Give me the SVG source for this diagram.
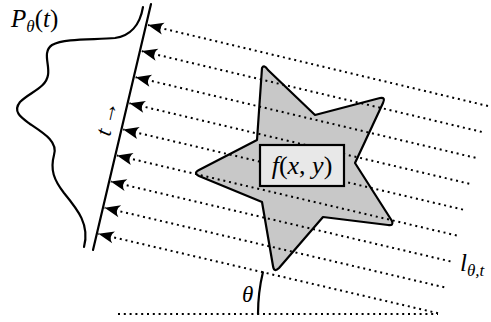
<svg xmlns="http://www.w3.org/2000/svg" width="491" height="322" viewBox="0 0 491 322">
<style>
.ray{fill:none;stroke:#000;stroke-width:2;stroke-dasharray:2 3.8}
.solid{fill:none;stroke:#000;stroke-width:2.2;stroke-linecap:round;stroke-linejoin:round}
.lbl{font-family:"Liberation Serif","DejaVu Serif",serif;font-style:italic;fill:#000}
.up{font-family:"Liberation Serif","DejaVu Serif",serif;font-style:normal;fill:#000}
</style>
<defs>
<marker id="ah" markerUnits="userSpaceOnUse" markerWidth="20" markerHeight="20" viewBox="-16 -8 18 16" refX="0" refY="0" orient="auto">
<path d="M0,0 L-14,-5.5 Q-9,0 -14,5.5 Z" fill="#000"/>
</marker>
</defs>
<g id="star">
<path d="M262,68 Q264,64 268,70 L315,115 L380,98 Q386,97 383,103 L355,163 L392,221 Q394,226 388,225 L323,217 L279,268 Q274,273 273,266 L262,202 L199,176 Q193,173 199,170 L257,140 Z" fill="#c8c8c8" stroke="#000" stroke-width="2.2" stroke-linejoin="round"/>
</g>
<g id="connectors">
<line class="ray" x1="488" y1="106" x2="148" y2="25" marker-end="url(#ah)"/>
<line class="ray" x1="481.75" y1="131.9" x2="141.8" y2="51.1" marker-end="url(#ah)"/>
<line class="ray" x1="475.5" y1="157.8" x2="135.6" y2="77.2" marker-end="url(#ah)"/>
<line class="ray" x1="469.25" y1="183.7" x2="129.4" y2="103.3" marker-end="url(#ah)"/>
<line class="ray" x1="463" y1="209.6" x2="123.2" y2="129.4" marker-end="url(#ah)"/>
<line class="ray" x1="456.75" y1="235.5" x2="117" y2="155.5" marker-end="url(#ah)"/>
<line class="ray" x1="450.5" y1="261.4" x2="110.8" y2="181.6" marker-end="url(#ah)"/>
<line class="ray" x1="444.25" y1="287.3" x2="104.6" y2="207.7" marker-end="url(#ah)"/>
<line class="ray" x1="438" y1="313.2" x2="98.4" y2="233.8" marker-end="url(#ah)"/>
<line class="ray" x1="118" y1="314" x2="438" y2="314"/>
</g>
<g id="detector">
<line class="solid" x1="151" y1="4" x2="93" y2="250"/>
</g>
<g id="profile">
<path class="solid" d="M143,7 C140,25 130,36 115,38 C95,40 65,38 52,45 C42,52 50,65 48,75 C46,88 30,92 20,102 C12,112 22,118 30,124 C45,134 58,142 54,155 C50,170 54,180 64,193 C78,210 90,225 84,247"/>
</g>
<g id="angle">
<path class="solid" d="M258,314 A180,180 0 0 1 262.9,272.3"/>
<text class="lbl" x="242" y="302" font-size="23">θ</text>
</g>
<g id="box">
<rect x="260" y="145" width="84" height="41" fill="#e8e8e8" stroke="#000" stroke-width="2.2"/>
<text class="lbl" x="302" y="174" font-size="26" text-anchor="middle">f<tspan class="up">(</tspan>x<tspan class="up">,</tspan> y<tspan class="up">)</tspan></text>
</g>
<g id="labels">
<text class="lbl" x="11" y="27" font-size="25">P<tspan font-size="17" dy="5">θ</tspan><tspan class="up" dy="-5">(</tspan>t<tspan class="up">)</tspan></text>
<text class="lbl" x="460" y="271" font-size="25">l<tspan font-size="17" dy="5">θ,t</tspan></text>
<text class="lbl" transform="translate(114,120) rotate(-77)" font-size="23" text-anchor="middle">t <tspan class="up">→</tspan></text>
</g>
</svg>
